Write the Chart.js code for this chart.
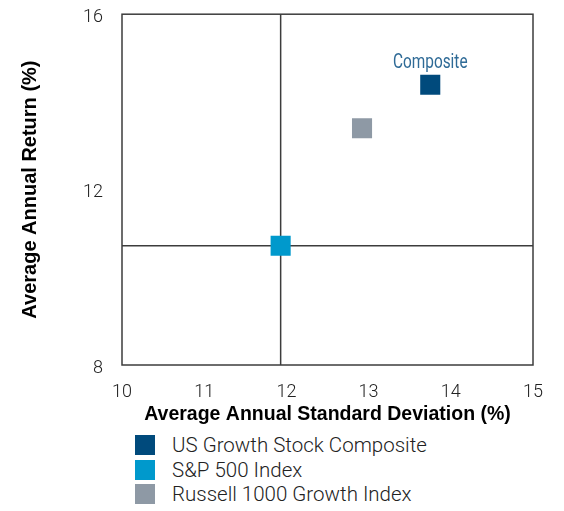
<!DOCTYPE html>
<html>
<head>
<meta charset="utf-8">
<script src="https://cdn.jsdelivr.net/npm/chart.js@4/dist/chart.umd.min.js"></script>
<style>
  body { margin: 0; background: #fff; }
  #wrap { position: relative; width: 564px; height: 430px; }
  #legend { position: absolute; left: 135px; top: 433px; font-family: Roboto, "Liberation Sans", sans-serif; font-weight: 300; font-size: 20.5px; color: #222; }
  #legend div { height: 24.5px; display: flex; align-items: center; }
  #legend span.box { display: inline-block; width: 20px; height: 20px; margin-right: 17px; }
</style>
</head>
<body>
<div id="wrap"><canvas id="myChart" width="564" height="430"></canvas></div>
<div id="legend"></div>
<script>
const series_names = ["US Growth Stock Composite", "S&P 500 Index", "Russell 1000 Growth Index"];
const std_dev = [13.75, 11.93, 12.92];
const avg_return = [14.39, 10.72, 13.40];
const series_colors = ["rgb(0, 74, 124)", "rgb(0, 153, 204)", "rgb(142, 153, 165)"];
const x_ticks = [10, 11, 12, 13, 14, 15];
const y_ticks = [8, 12, 16];
const point_label = "Composite";
const line_color = "rgb(60, 60, 60)";

const tick_font = { family: "Roboto, 'Liberation Sans', sans-serif", size: 18, weight: 300 };

// box round the plot + the two lines through the S&P point + the label
const frame_plugin = {
  id: "frame",
  beforeDatasetsDraw(chart) {
    const { ctx, chartArea, scales } = chart;
    const x = scales.x.getPixelForValue(std_dev[1]);
    const y = scales.y.getPixelForValue(avg_return[1]);
    ctx.save();
    ctx.strokeStyle = line_color;
    ctx.lineWidth = 1.5;
    ctx.strokeRect(chartArea.left, chartArea.top, chartArea.right - chartArea.left, chartArea.bottom - chartArea.top);
    ctx.beginPath();
    ctx.moveTo(x, chartArea.top);
    ctx.lineTo(x, chartArea.bottom);
    ctx.moveTo(chartArea.left, y);
    ctx.lineTo(chartArea.right, y);
    ctx.stroke();
    ctx.restore();
  },
  afterDatasetsDraw(chart) {
    const { ctx, scales } = chart;
    const x = scales.x.getPixelForValue(std_dev[0]);
    const y = scales.y.getPixelForValue(avg_return[0]);
    ctx.save();
    ctx.translate(x, y - 22);
    ctx.scale(0.77, 1);  // condensed look
    ctx.font = "400 20px Roboto, sans-serif";
    ctx.fillStyle = "rgb(46, 106, 150)";
    ctx.textAlign = "center";
    ctx.textBaseline = "middle";
    ctx.fillText(point_label, 0, 0);
    ctx.restore();
  },
};

const ctx = document.getElementById("myChart").getContext("2d");
const myChart = new Chart(ctx, {
  type: "scatter",
  data: {
    datasets: series_names.map((name, i) => ({
      label: name,
      data: [{ x: std_dev[i], y: avg_return[i] }],
      pointStyle: "rect",
      pointRadius: 14.2,
      pointHoverRadius: 14.2,
      backgroundColor: series_colors[i],
      borderColor: series_colors[i],
      borderWidth: 0,
    })),
  },
  options: {
    responsive: false,
    animation: false,
    layout: { padding: { top: 12, right: 31, left: 0, bottom: 0 } },
    plugins: { legend: { display: false }, tooltip: { enabled: false } },
    scales: {
      x: {
        type: "linear",
        min: 10,
        max: 15,
        afterBuildTicks: (scale) => { scale.ticks = x_ticks.map((v) => ({ value: v })); },
        afterFit: (scale) => { scale.height = 65; scale.paddingLeft = 0; scale.paddingRight = 0; },
        grid: { display: false },
        border: { display: false },
        ticks: { font: tick_font, color: "#222", padding: 9 },
        title: { display: true, text: "Average Annual Standard Deviation (%)", font: { family: "'Liberation Sans', Arial, sans-serif", size: 19.5, weight: "bold" }, color: "#000", padding: { top: 0, bottom: 4 } },
      },
      y: {
        type: "linear",
        min: 8,
        max: 16,
        afterBuildTicks: (scale) => { scale.ticks = y_ticks.map((v) => ({ value: v })); },
        afterFit: (scale) => { scale.width = 122; scale.paddingTop = 0; scale.paddingBottom = 0; },
        grid: { display: false },
        border: { display: false },
        ticks: { font: tick_font, color: "#222", padding: 11, labelOffset: 3 },
        title: { display: true, text: "Average Annual Return (%)", font: { family: "'Liberation Sans', Arial, sans-serif", size: 20, weight: "bold" }, color: "#000", padding: { top: 18, bottom: 0 } },
      },
    },
  },
  plugins: [frame_plugin],
});

const legend = document.getElementById("legend");
series_names.forEach((name, i) => {
  const row = document.createElement("div");
  const box = document.createElement("span");
  box.className = "box";
  box.style.background = series_colors[i];
  row.appendChild(box);
  row.appendChild(document.createTextNode(name));
  legend.appendChild(row);
});
</script>
</body>
</html>
